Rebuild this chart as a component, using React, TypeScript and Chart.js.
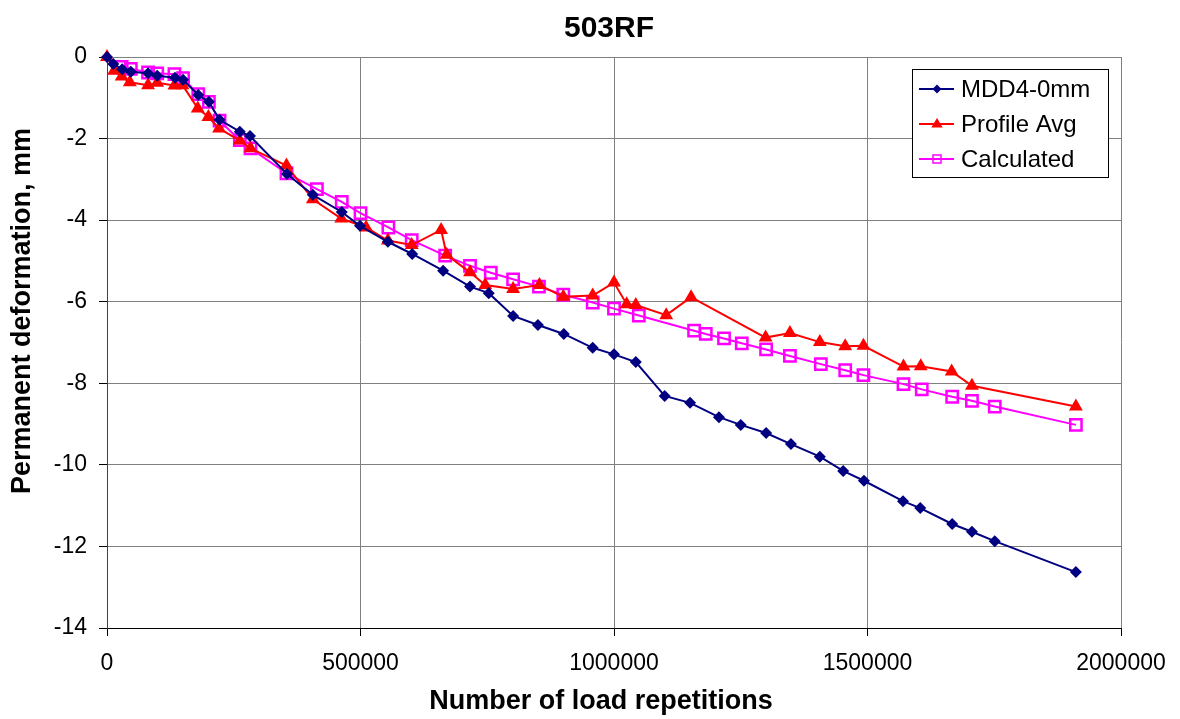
import React, { useEffect, useRef } from "react";
import { Chart, registerables } from "chart.js";

Chart.register(...registerables);

const chartTitle = "503RF";
const xAxisTitle = "Number of load repetitions";
const yAxisTitle = "Permanent deformation, mm";
const seriesNames = ["MDD4-0mm", "Profile Avg", "Calculated"];

const mddX = [0, 12500, 30000, 47000, 81000, 99000, 134000, 150000, 180000, 201000, 222000, 262000, 282000, 355000, 406000, 463000, 499000, 554000, 602000, 663000, 716000, 753000, 801000, 850000, 901000, 958000, 1000000, 1043000, 1100000, 1150000, 1207000, 1250000, 1300000, 1349000, 1406000, 1452000, 1493000, 1570000, 1604000, 1667000, 1706000, 1751000, 1911000];
const mddY = [0, -0.17, -0.3, -0.36, -0.4, -0.46, -0.51, -0.56, -0.93, -1.1, -1.54, -1.83, -1.94, -2.87, -3.38, -3.8, -4.14, -4.53, -4.83, -5.24, -5.63, -5.79, -6.35, -6.57, -6.79, -7.13, -7.29, -7.48, -8.31, -8.48, -8.83, -9.02, -9.22, -9.49, -9.8, -10.15, -10.39, -10.89, -11.06, -11.45, -11.64, -11.87, -12.63];

const profX = [0, 14000, 29000, 45000, 81000, 99000, 133000, 149000, 179000, 200000, 221000, 262000, 283000, 354000, 406000, 462000, 511000, 554000, 601000, 659000, 670000, 716000, 746000, 801000, 853000, 900000, 958000, 1000000, 1025000, 1043000, 1103000, 1152000, 1299000, 1347000, 1406000, 1456000, 1492000, 1571000, 1605000, 1666000, 1706000, 1911000];
const profY = [0, -0.34, -0.48, -0.62, -0.69, -0.63, -0.7, -0.69, -1.26, -1.47, -1.75, -2.05, -2.24, -2.66, -3.49, -3.96, -4.18, -4.5, -4.61, -4.24, -4.85, -5.28, -5.59, -5.69, -5.59, -5.88, -5.85, -5.53, -6.06, -6.08, -6.33, -5.89, -6.88, -6.77, -6.99, -7.09, -7.08, -7.59, -7.58, -7.71, -8.06, -8.57];

const calcX = [29000, 47000, 81000, 99000, 133000, 150000, 180000, 201000, 222000, 262000, 283000, 354000, 414000, 463000, 500000, 555000, 601000, 667000, 716000, 757000, 801000, 852000, 900000, 958000, 1000000, 1049000, 1158000, 1181000, 1217000, 1252000, 1300000, 1347000, 1408000, 1456000, 1492000, 1571000, 1607000, 1667000, 1706000, 1751000, 1911000];
const calcY = [-0.24, -0.29, -0.38, -0.4, -0.42, -0.52, -0.91, -1.1, -1.56, -2.04, -2.24, -2.85, -3.24, -3.55, -3.83, -4.18, -4.49, -4.87, -5.12, -5.29, -5.45, -5.63, -5.83, -6.02, -6.17, -6.34, -6.71, -6.79, -6.9, -7.02, -7.17, -7.33, -7.53, -7.68, -7.8, -8.02, -8.15, -8.33, -8.43, -8.57, -9.02];

const xMin = 0;
const xMax = 2000000;
const xStep = 500000;
const yMin = -14;
const yMax = 0;
const yStep = 2;

const FONT = "Arial, 'Liberation Sans', sans-serif";
const BLUE = "#000080";
const RED = "#FF0000";
const MAGENTA = "#FF00FF";

const toPoints = (xs: number[], ys: number[]) => xs.map((x, i) => ({ x, y: ys[i] }));

function drawMarker(ctx: CanvasRenderingContext2D, kind: string, x: number, y: number) {
  ctx.save();
  if (kind === "diamond") {
    const r = 4.5;
    ctx.fillStyle = BLUE;
    ctx.beginPath();
    ctx.moveTo(x, y - r);
    ctx.lineTo(x + r, y);
    ctx.lineTo(x, y + r);
    ctx.lineTo(x - r, y);
    ctx.closePath();
    ctx.fill();
  } else if (kind === "triangle") {
    const r = 6;
    ctx.fillStyle = RED;
    ctx.beginPath();
    ctx.moveTo(x, y - r);
    ctx.lineTo(x + r * 0.95, y + r * 0.6);
    ctx.lineTo(x - r * 0.95, y + r * 0.6);
    ctx.closePath();
    ctx.fill();
  } else {
    const s = 4;
    ctx.strokeStyle = MAGENTA;
    ctx.lineWidth = 1.5;
    ctx.strokeRect(x - s, y - s, 2 * s, 2 * s);
  }
  ctx.restore();
}

const textPlugin = {
  id: "customText",
  afterDraw(chart: any) {
    const ctx: CanvasRenderingContext2D = chart.ctx;
    ctx.save();
    ctx.fillStyle = "#000";
    ctx.textAlign = "center";
    ctx.textBaseline = "middle";
    // Title
    ctx.font = `bold 30px ${FONT}`;
    ctx.fillText(chartTitle, 609, 29);
    // X axis title
    ctx.font = `bold 27px ${FONT}`;
    ctx.fillText(xAxisTitle, 601, 702);
    // Y axis title
    ctx.save();
    ctx.translate(23, 311);
    ctx.rotate(-Math.PI / 2);
    ctx.font = `bold 27px ${FONT}`;
    ctx.fillText(yAxisTitle, 0, 0);
    ctx.restore();

    // Legend
    const bx = 912, by = 69, bw = 196, bh = 108;
    ctx.fillStyle = "#fff";
    ctx.fillRect(bx, by, bw, bh);
    ctx.strokeStyle = "#000";
    ctx.lineWidth = 1;
    ctx.strokeRect(bx + 0.5, by + 0.5, bw, bh);
    const rows = [
      { name: seriesNames[0], color: BLUE, kind: "diamond", y: 89 },
      { name: seriesNames[1], color: RED, kind: "triangle", y: 124 },
      { name: seriesNames[2], color: MAGENTA, kind: "square", y: 159 },
    ];
    ctx.font = `24px ${FONT}`;
    ctx.textAlign = "left";
    rows.forEach((r) => {
      ctx.strokeStyle = r.color;
      ctx.lineWidth = 1.8;
      ctx.beginPath();
      ctx.moveTo(919, r.y);
      ctx.lineTo(954, r.y);
      ctx.stroke();
      drawMarker(ctx, r.kind, 937, r.y);
      ctx.fillStyle = "#000";
      ctx.fillText(r.name, 961, r.y + 1);
    });
    ctx.restore();
  },
};

export default function App() {
  const canvasRef = useRef<HTMLCanvasElement | null>(null);

  useEffect(() => {
    document.body.style.margin = "0";
    const canvas = canvasRef.current;
    if (!canvas) return;
    const chart = new Chart(canvas, {
      type: "line",
      data: {
        datasets: [
          {
            label: seriesNames[0],
            data: toPoints(mddX, mddY),
            borderColor: BLUE,
            backgroundColor: BLUE,
            borderWidth: 2,
            pointStyle: "rectRot",
            pointRadius: 6,
            pointBorderWidth: 0,
            pointBackgroundColor: BLUE,
            tension: 0,
            clip: false,
          },
          {
            label: seriesNames[1],
            data: toPoints(profX, profY),
            borderColor: RED,
            backgroundColor: RED,
            borderWidth: 2,
            pointStyle: "triangle",
            pointRadius: 8,
            pointBorderWidth: 0,
            pointBackgroundColor: RED,
            tension: 0,
            clip: false,
          },
          {
            label: seriesNames[2],
            data: toPoints(calcX, calcY),
            borderColor: MAGENTA,
            backgroundColor: "rgba(0,0,0,0)",
            borderWidth: 2,
            pointStyle: "rect",
            pointRadius: 8,
            pointBorderWidth: 2.5,
            pointBorderColor: MAGENTA,
            pointBackgroundColor: "rgba(0,0,0,0)",
            tension: 0,
            clip: false,
          },
        ],
      },
      options: {
        responsive: false,
        animation: false,
        layout: { padding: { top: 57, right: 59, left: 0, bottom: 0 } },
        plugins: {
          legend: { display: false },
          title: { display: false },
          tooltip: { enabled: false },
        },
        scales: {
          x: {
            type: "linear",
            min: xMin,
            max: xMax,
            afterFit: (s: any) => {
              s.height = 91;
            },
            ticks: {
              stepSize: xStep,
              color: "#000",
              font: { family: FONT, size: 23 },
              padding: 14,
              maxRotation: 0,
              callback: (v: any) => String(v),
            },
            grid: {
              color: "#808080",
              lineWidth: 1,
              tickLength: 8,
              tickColor: "#000",
            },
            border: { color: "#000", width: 1 },
          },
          y: {
            type: "linear",
            min: yMin,
            max: yMax,
            afterFit: (s: any) => {
              s.width = 107;
            },
            ticks: {
              stepSize: yStep,
              color: "#000",
              font: { family: FONT, size: 23 },
              padding: 12,
              callback: (v: any) => String(v),
            },
            grid: {
              color: "#808080",
              lineWidth: 1,
              tickLength: 8,
              tickColor: "#000",
            },
            border: { color: "#404040", width: 1 },
          },
        },
      },
      plugins: [textPlugin],
    });
    return () => chart.destroy();
  }, []);

  return (
    <div style={{ width: 1180, height: 719, background: "#fff" }}>
      <canvas ref={canvasRef} width={1180} height={719} style={{ display: "block" }} />
    </div>
  );
}
